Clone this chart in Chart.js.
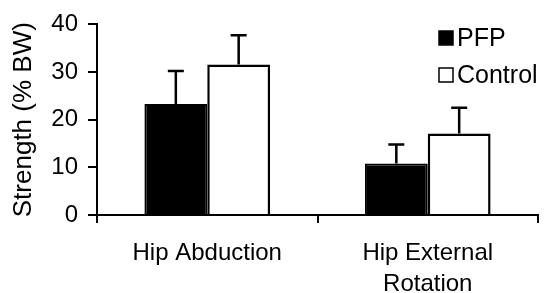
<!DOCTYPE html>
<html>
<head>
<meta charset="utf-8">
<script src="https://cdn.jsdelivr.net/npm/chart.js@4/dist/chart.umd.min.js"></script>
<style>
  html, body { margin: 0; padding: 0; background: #fff; }
  #wrap { width: 545px; height: 293px; }
</style>
</head>
<body>
<div id="wrap"><canvas id="chart"></canvas></div>
<script>
const categories = [['Hip Abduction'], ['Hip External', 'Rotation']];
const seriesNames = ['PFP', 'Control'];
const pfpValues = [23.3, 10.8];
const pfpErrors = [6.9, 4.0];
const controlValues = [31.6, 17.1];
const controlErrors = [6.1, 5.4];
const yTicks = [0, 10, 20, 30, 40];

const FONT = "'Liberation Sans', Arial, Helvetica, sans-serif";

// error bars (upper only) drawn from each bar's own element
const errorBars = {
  id: 'errorBars',
  afterDatasetsDraw(chart) {
    const ctx = chart.ctx;
    const y = chart.scales.y;
    ctx.save();
    ctx.strokeStyle = '#000';
    ctx.lineWidth = 2.5;
    chart.data.datasets.forEach((ds, i) => {
      chart.getDatasetMeta(i).data.forEach((bar, j) => {
        const top = y.getPixelForValue(ds.data[j] + ds.errors[j]);
        ctx.beginPath();
        ctx.moveTo(bar.x, bar.y);
        ctx.lineTo(bar.x, top);
        ctx.moveTo(bar.x - 8, top);
        ctx.lineTo(bar.x + 8, top);
        ctx.stroke();
      });
    });
    ctx.restore();
  }
};

// legend in the top right corner
const cornerLegend = {
  id: 'cornerLegend',
  afterDraw(chart) {
    const ctx = chart.ctx;
    ctx.save();
    ctx.font = '25px ' + FONT;
    ctx.textBaseline = 'middle';
    chart.data.datasets.forEach((ds, i) => {
      const cy = 38 + i * 37;
      ctx.fillStyle = ds.backgroundColor;
      ctx.fillRect(439, cy - 7, 14, 14);
      ctx.strokeStyle = '#000';
      ctx.lineWidth = 1.5;
      ctx.strokeRect(439, cy - 7, 14, 14);
      ctx.fillStyle = '#000';
      ctx.fillText(ds.label, 457, cy + 1);
    });
    ctx.restore();
  }
};

new Chart(document.getElementById('chart'), {
  type: 'bar',
  data: {
    labels: categories,
    datasets: [
      {
        label: seriesNames[0],
        data: pfpValues,
        errors: pfpErrors,
        backgroundColor: '#000',
        borderColor: '#000',
        borderWidth: 2
      },
      {
        label: seriesNames[1],
        data: controlValues,
        errors: controlErrors,
        backgroundColor: '#fff',
        borderColor: '#000',
        borderWidth: 2.5
      }
    ]
  },
  options: {
    responsive: true,
    maintainAspectRatio: false,
    animation: false,
    categoryPercentage: 0.57,
    barPercentage: 1,
    layout: { padding: { top: 23, right: 7, left: 0, bottom: 0 } },
    plugins: {
      legend: { display: false },
      tooltip: { enabled: false }
    },
    scales: {
      x: {
        grid: { drawOnChartArea: false, color: '#000', lineWidth: 2, tickLength: 8 },
        border: { color: '#000', width: 2 },
        ticks: {
          color: '#000',
          padding: 15,
          maxRotation: 0,
          font: { family: FONT, size: 24, lineHeight: 1.28 }
        },
        afterFit(scale) { scale.height = 78; }
      },
      y: {
        min: 0,
        max: 40,
        afterBuildTicks(scale) { scale.ticks = yTicks.map(v => ({ value: v })); },
        grid: { drawOnChartArea: false, color: '#000', lineWidth: 2, tickLength: 9 },
        border: { color: '#000', width: 2 },
        ticks: {
          color: '#000',
          padding: 10,
          font: { family: FONT, size: 24 }
        },
        title: {
          display: true,
          text: 'Strength (% BW)',
          color: '#000',
          padding: { top: 8, bottom: 0 },
          font: { family: FONT, size: 26 }
        },
        afterFit(scale) { scale.width = 97; }
      }
    }
  },
  plugins: [errorBars, cornerLegend]
});
</script>
</body>
</html>
